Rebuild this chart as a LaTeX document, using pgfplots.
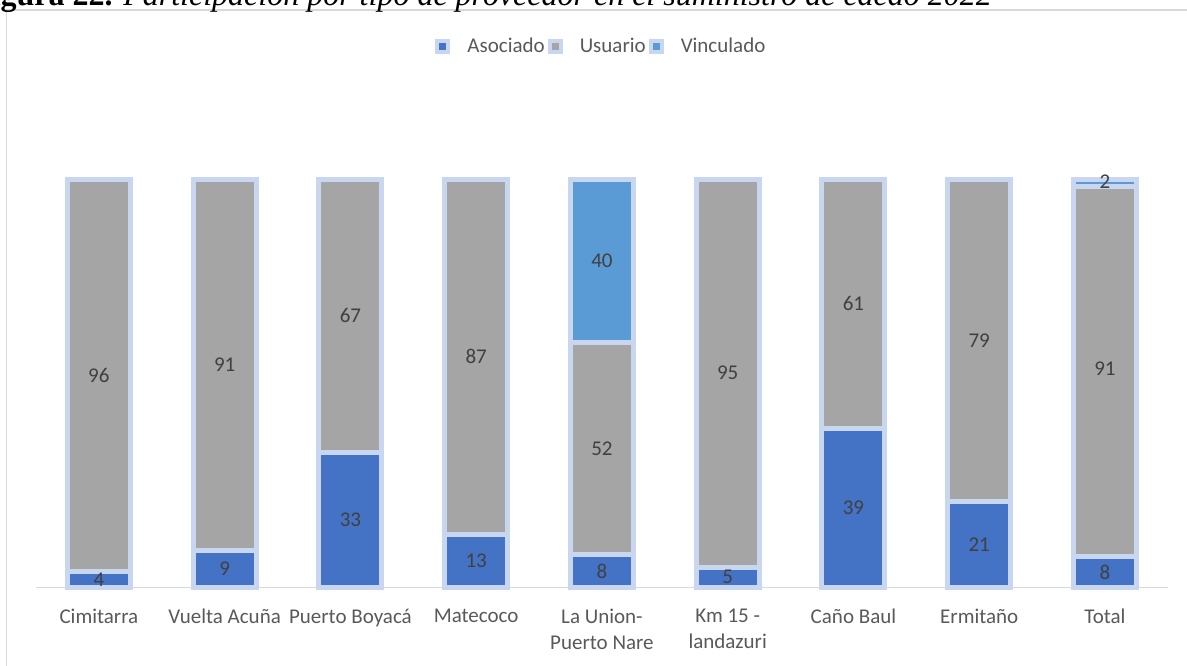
\documentclass[border=0pt]{standalone}
\usepackage{fontspec}
\setmainfont{Carlito}
\newfontfamily\titlefont{Liberation Serif}
\usepackage{pgfplots}
\usepackage{pgfplotstable}
\pgfplotsset{compat=1.18}
\definecolor{asoc}{HTML}{4472C4}
\definecolor{usu}{HTML}{A5A5A5}
\definecolor{vinc}{HTML}{5B9BD5}
\definecolor{glow}{HTML}{C9D6EF}
\definecolor{txt}{HTML}{595959}
\definecolor{lbl}{HTML}{404040}
\definecolor{gridc}{HTML}{D9D9D9}
\pgfplotsset{glowlegend/.style={legend image code/.code={\draw[##1, draw=glow, line width=4pt] (0pt,-5.5pt) rectangle (11pt,5.5pt);}}}

\pgfplotstableread{
x aso usu vin
0 4 96 0
1 9 91 0
2 33 67 0
3 13 87 0
4 8 52 40
5 5 95 0
6 39 61 0
7 21 79 0
8 7.6 90.7 1.7
}\bars

\pgfplotstableread{
x y lab
0 2 4
0 52 96
1 4.5 9
1 54.5 91
2 16.5 33
2 66.5 67
3 6.5 13
3 56.5 87
4 4 8
4 34 52
4 80 40
5 2.5 5
5 52.5 95
6 19.5 39
6 69.5 61
7 10.5 21
7 60.5 79
8 3.8 8
8 53.5 91
8 99.3 2
}\labels

\begin{document}
\begin{tikzpicture}
\path[use as bounding box] (0,0) rectangle (1187pt,665pt);
\clip (0,0) rectangle (1187pt,665pt);
\draw[gridc, line width=1.5pt] (6.5pt,-10pt) -- (6.5pt,655pt) -- (1200pt,655pt);
\node[anchor=base west, inner sep=0pt, font=\titlefont\fontsize{32}{38}\selectfont] at (-28pt,659pt)
  {\textbf{Figura 22.} \textit{Participación por tipo de proveedor en el suministro de cacao 2022}};
\begin{axis}[
  at={(36pt,77.5pt)}, anchor=south west,
  scale only axis, width=1132pt, height=408.3pt,
  xmin=-0.5, xmax=8.5, ymin=0, ymax=100,
  clip=false,
  ybar stacked, bar width=63pt,
  every axis plot post/.append style={glowlegend},
  axis x line*=bottom, axis y line=none,
  x axis line style={gridc, line width=1.5pt},
  xtick={0,...,8}, major tick length=0pt,
  xticklabels={Cimitarra, Vuelta Acuña, Puerto Boyacá, Matecoco, {La Union-\\Puerto Nare}, {Km 15 -\\landazuri}, Caño Baul, Ermitaño, Total},
  xticklabel style={align=center, text=txt, font=\fontsize{21}{26}\selectfont, yshift=-18pt},
  ytick=\empty,
  legend style={at={(0.5,1.326)}, anchor=center, draw=none, fill=none,
    legend columns=-1, font=\fontsize{21}{26}\selectfont, text=txt,
    nodes={inner sep=3pt},
    /tikz/every odd column/.append style={column sep=14pt}},
]
\addplot[fill=asoc, draw=glow, line width=5pt] table[x=x, y=aso] {\bars};
\addplot[fill=usu, draw=glow, line width=5pt] table[x=x, y=usu] {\bars};
\addplot[fill=vinc, draw=glow, line width=5pt] table[x=x, y=vin] {\bars};
\legend{Asociado, Usuario, Vinculado}
\end{axis}
\begin{axis}[
  at={(36pt,77.5pt)}, anchor=south west,
  scale only axis, width=1132pt, height=408.3pt,
  xmin=-0.5, xmax=8.5, ymin=0, ymax=100,
  clip=false, hide axis,
]
\addplot[only marks, mark=none, nodes near coords, point meta=explicit symbolic,
  nodes near coords style={anchor=center, text=lbl, font=\fontsize{21}{26}\selectfont}]
  table[x=x, y=y, meta=lab] {\labels};
\end{axis}
\end{tikzpicture}
\end{document}
